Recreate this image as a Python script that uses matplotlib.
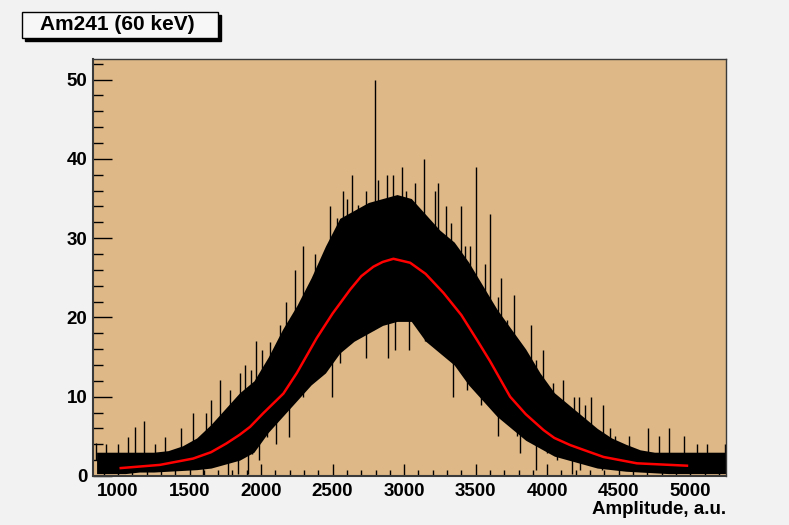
import matplotlib.pyplot as plt
from matplotlib.patches import Rectangle
from matplotlib.ticker import MultipleLocator
import numpy as np

plt.rcParams['font.family'] = ['Liberation Sans', 'DejaVu Sans']
plt.rcParams['font.weight'] = 'bold'

# black band of the histogram: upper and lower edge, read every 100 a.u.
env_x = [850, 950, 1050, 1150, 1250, 1350, 1450, 1550, 1650, 1750, 1850, 1950,
         2050, 2150, 2250, 2350, 2450, 2550, 2650, 2750, 2850, 2950, 3050, 3150,
         3250, 3350, 3450, 3550, 3650, 3750, 3850, 3950, 4050, 4150, 4250, 4350,
         4450, 4550, 4650, 4750, 4850, 4950, 5050, 5150, 5250]
env_top = [3, 3, 3, 3, 3, 3.2, 3.8, 4.8, 6.5, 8.5, 10.5, 12,
           15, 18.5, 21.5, 25, 29, 32.5, 33.5, 34.5, 35, 35.5, 35, 33,
           31, 29.5, 27, 24, 21, 18.5, 16, 13, 10.5, 9, 7.5, 6,
           4.8, 4, 3.3, 3, 3, 3, 3, 3, 3]
env_low = [0.3, 0.3, 0.3, 0.5, 0.5, 0.6, 0.7, 0.8, 1, 1.5, 2, 3,
           5.5, 7.5, 9.5, 11.5, 13, 15.5, 17, 18, 19, 19.5, 19.5, 17,
           15.5, 14, 11.5, 9.5, 7.5, 6, 4.5, 3.5, 2.5, 2, 1.5, 1,
           0.8, 0.6, 0.5, 0.4, 0.3, 0.3, 0.3, 0.3, 0.3]

# single bins sticking out above the band
spike_x = [848, 918, 1000, 1070, 1116, 1179, 1256, 1326, 1443, 1524, 1613, 1653,
           1711, 1781, 1851, 1886, 1932, 1965, 2005, 2063, 2133, 2175, 2238, 2296,
           2378, 2417, 2482, 2534, 2571, 2604, 2634, 2674, 2734, 2795, 2820, 2879,
           2921, 2984, 3014, 3077, 3140, 3217, 3240, 3294, 3326, 3396, 3427, 3462,
           3499, 3566, 3601, 3653, 3676, 3718, 3769, 3823, 3886, 3923, 3974, 4044,
           4114, 4184, 4224, 4266, 4305, 4389, 4441, 4476, 4569, 4702, 4779, 4849,
           4954, 5047, 5117, 5245]
spike_y = [4.1, 4, 4, 4.9, 6.2, 7, 4, 4.9, 6, 7.9, 7.9, 9.6,
           12.1, 10.8, 13, 14, 13.4, 17, 15.9, 16.9, 19.1, 22, 26, 29,
           28, 27, 34, 32.5, 35.9, 35, 38, 34.2, 36, 50, 37.4, 38,
           38, 39, 35.9, 37, 40, 36, 37, 34, 31.9, 34, 29, 29,
           39, 26.8, 33, 22.6, 25, 19.7, 22.8, 15.9, 19, 14.6, 15.9, 11.7,
           12.1, 10, 10, 9, 10, 9, 6, 5, 5, 6, 5, 6,
           5, 4, 4, 4]

# single bins dropping below the band
dip_x = [1594, 1769, 1839, 1909, 1935, 1988, 2040, 2105, 2198, 2238,
         2296, 2401, 2494, 2552, 2622, 2734, 2785, 2890, 2937, 2995, 3035, 3084,
         3147, 3252, 3345, 3438, 3536, 3613, 3653, 3788, 3811, 3921, 3998, 4068,
         4173, 4231, 4382]
dip_y = [0, 0, 0.3, 0.3, 2.8, 2, 4.9, 4, 4.9, 10,
         10, 13.4, 10, 14.2, 18, 14.9, 18.4, 14.9, 15.9, 21, 15.9, 20,
         17, 15.9, 10, 10.9, 9, 9.2, 5, 5, 2.9, 0.8, 2.9, 2,
         0.3, 0.8, 0.8]

# gaussian fit
fit_x = [1019, 1292, 1525, 1650, 1757, 1850, 1923, 2014, 2156, 2250, 2389, 2500,
         2622, 2700, 2785, 2850, 2925, 3042, 3150, 3275, 3400, 3508, 3600, 3741,
         3850, 3974, 4050, 4161, 4300, 4394, 4627, 4860, 4977]
fit_y = [1.0, 1.4, 2.2, 3.0, 4.1, 5.2, 6.2, 7.9, 10.4, 13.0, 17.4, 20.5,
         23.5, 25.2, 26.4, 27.0, 27.4, 26.9, 25.5, 23.1, 20.3, 17.2, 14.5, 10.0,
         7.8, 5.8, 4.8, 3.9, 3.0, 2.4, 1.6, 1.4, 1.3]

fig = plt.figure(figsize=(7.89, 5.25), dpi=100, facecolor='#f2f2f2')
ax = fig.add_axes([93/789, 49/525, 633/789, 417/525])
ax.set_facecolor('#deb887')

ax.fill_between(env_x, env_low, env_top, color='black', lw=0)
ax.vlines(spike_x, np.interp(spike_x, env_x, env_top) - 1, spike_y, color='black', lw=1)
ax.vlines(dip_x, dip_y, np.interp(dip_x, env_x, env_low) + 1, color='black', lw=1)
ax.plot(fit_x, fit_y, color='red', lw=1.8)

ax.set_xlim(825, 5250)
ax.set_ylim(0, 52.6)
ax.xaxis.set_major_locator(MultipleLocator(500))
ax.xaxis.set_minor_locator(MultipleLocator(100))
ax.yaxis.set_major_locator(MultipleLocator(10))
ax.yaxis.set_minor_locator(MultipleLocator(2))
ax.tick_params(axis='x', which='major', direction='in', length=9, width=1, labelsize=13.5, pad=5)
ax.tick_params(axis='x', which='minor', direction='in', length=4.5, width=1)
ax.tick_params(axis='y', which='major', direction='in', length=14, width=1, labelsize=13.5, pad=4)
ax.tick_params(axis='y', which='minor', direction='in', length=7, width=1)
for s in ax.spines.values():
    s.set_color('#3a3a3a')
    s.set_linewidth(1)
ax.spines['left'].set_linewidth(1.5)
ax.spines['bottom'].set_linewidth(1.5)

ax.set_xlabel('Amplitude, a.u.', fontsize=13.5, fontweight='bold', loc='right', labelpad=1)

# title box with shadow, ROOT style
fig.patches.append(Rectangle((25/789, (525-41)/525), 196/789, 26/525, transform=fig.transFigure,
                             facecolor='black', edgecolor='black'))
fig.patches.append(Rectangle((22/789, (525-38)/525), 196/789, 26/525, transform=fig.transFigure,
                             facecolor='#f7f7f7', edgecolor='black', lw=1))
fig.text(117/789, (525-24)/525, 'Am241 (60 keV)', fontsize=15, fontweight='bold',
         ha='center', va='center')

fig.savefig('out.png', dpi=100, facecolor=fig.get_facecolor())
